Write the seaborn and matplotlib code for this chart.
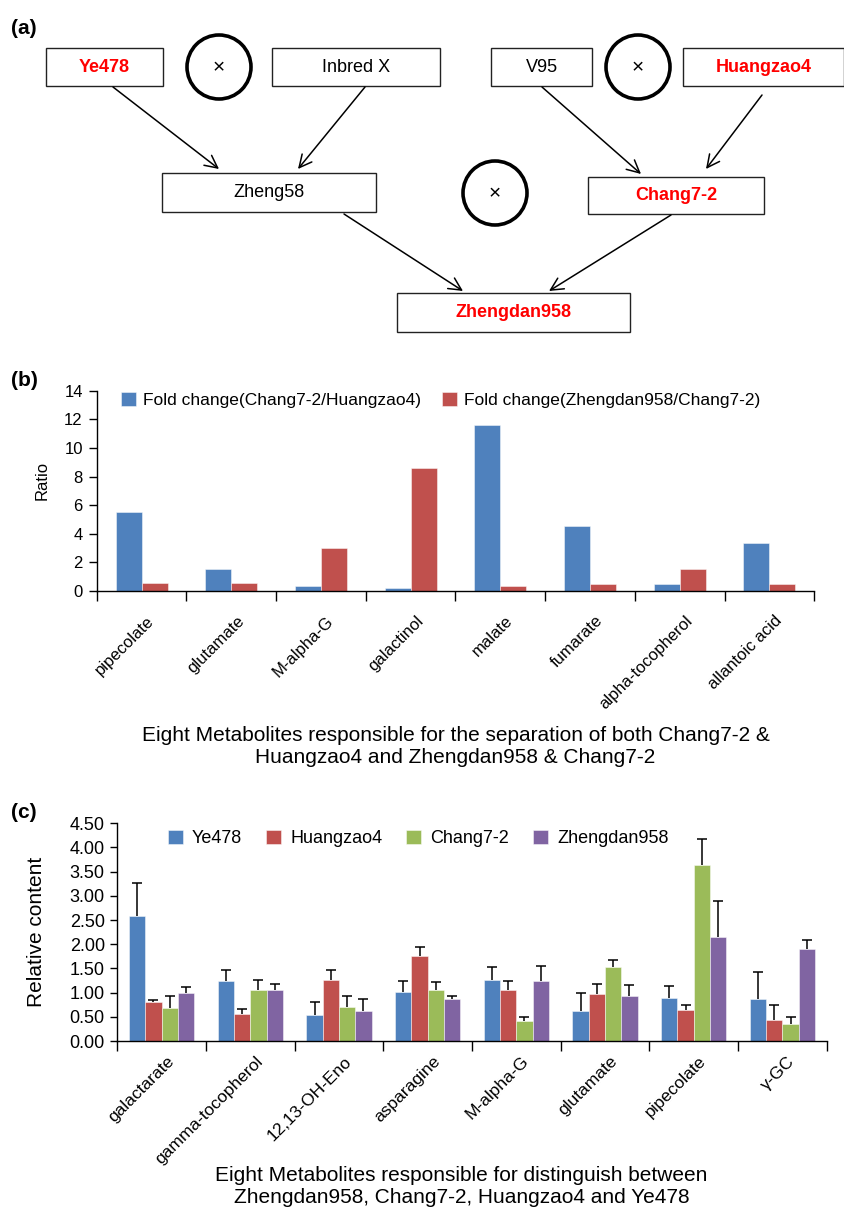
import numpy as np
import pandas as pd
import matplotlib
matplotlib.use("Agg")
import matplotlib.pyplot as plt
import matplotlib.transforms as mtransforms
from matplotlib.patches import Rectangle, Circle, FancyArrowPatch
import seaborn as sns

# ---------------- data ----------------
# panel (a): breeding pedigree
nodes = ["Ye478", "Inbred X", "V95", "Huangzao4", "Zheng58", "Chang7-2", "Zhengdan958"]
node_highlight = [True, False, False, True, False, True, True]
crosses = [("Ye478", "Inbred X", "Zheng58"), ("V95", "Huangzao4", "Chang7-2"),
           ("Zheng58", "Chang7-2", "Zhengdan958")]

# panel (b)
b_metabolites = ["pipecolate", "glutamate", "M-alpha-G", "galactinol", "malate",
                 "fumarate", "alpha-tocopherol", "allantoic acid"]
b_series = ["Fold change(Chang7-2/Huangzao4)", "Fold change(Zhengdan958/Chang7-2)"]
b_fc_chang_huang = [5.53, 1.54, 0.37, 0.18, 11.60, 4.51, 0.48, 3.36]
b_fc_zheng_chang = [0.58, 0.58, 2.99, 8.59, 0.37, 0.46, 1.54, 0.46]
b_xlabel = "Eight Metabolites responsible for the separation of both Chang7-2 &\nHuangzao4 and Zhengdan958 & Chang7-2"

# panel (c)
c_metabolites = ["galactarate", "gamma-tocopherol", "12,13-OH-Eno", "asparagine",
                 "M-alpha-G", "glutamate", "pipecolate", "γ-GC"]
c_lines = ["Ye478", "Huangzao4", "Chang7-2", "Zhengdan958"]
c_ye478 = [2.58, 1.23, 0.53, 1.02, 1.26, 0.63, 0.88, 0.87]
c_huangzao4 = [0.80, 0.56, 1.26, 1.76, 1.06, 0.97, 0.65, 0.43]
c_chang72 = [0.68, 1.05, 0.71, 1.06, 0.41, 1.52, 3.64, 0.35]
c_zhengdan958 = [1.00, 1.06, 0.62, 0.86, 1.23, 0.94, 2.16, 1.90]
c_ye478_err = [0.68, 0.23, 0.28, 0.22, 0.26, 0.37, 0.25, 0.55]
c_huangzao4_err = [0.04, 0.10, 0.21, 0.18, 0.19, 0.20, 0.10, 0.31]
c_chang72_err = [0.24, 0.22, 0.23, 0.16, 0.09, 0.15, 0.54, 0.15]
c_zhengdan958_err = [0.11, 0.11, 0.24, 0.06, 0.32, 0.22, 0.74, 0.18]
c_xlabel = "Eight Metabolites responsible for distinguish between\nZhengdan958, Chang7-2, Huangzao4 and Ye478"

# ---------------- style ----------------
sns.set_theme(style="ticks")
plt.rcParams["font.family"] = ["Liberation Sans", "DejaVu Sans"]
for k in ["text.color", "axes.labelcolor", "xtick.color", "ytick.color", "axes.edgecolor"]:
    plt.rcParams[k] = "black"
plt.rcParams["axes.linewidth"] = 1.0
plt.rcParams["xtick.major.width"] = 1.0
plt.rcParams["ytick.major.width"] = 1.0
plt.rcParams["xtick.minor.width"] = 1.0

BLUE, RED, GREEN, PURPLE = "#4F81BD", "#C0504D", "#9BBB59", "#8064A2"
W, H = 845, 1212
fig = plt.figure(figsize=(W / 100, H / 100), dpi=100)

# overlay axes in pixel coordinates for the diagram and panel letters
ov = fig.add_axes([0, 0, 1, 1])
ov.set_xlim(0, W)
ov.set_ylim(H, 0)
ov.axis("off")

# ---------------- panel (a) ----------------
box_pos = {  # x0, x1, y0, y1 (pixels)
    "Ye478": (46, 163, 48, 86),
    "Inbred X": (272, 440, 48, 86),
    "V95": (491, 592, 48, 86),
    "Huangzao4": (683, 844, 48, 86),
    "Zheng58": (162, 376, 173, 212),
    "Chang7-2": (588, 764, 177, 214),
    "Zhengdan958": (397, 630, 293, 332),
}
circle_pos = [(219, 67), (638, 67), (495, 193)]
arrow_pos = [((113, 87), (219, 169)), ((365, 87), (298, 169)),
             ((542, 87), (641, 174)), ((762, 95), (706, 169)),
             ((344, 214), (463, 291)), ((671, 215), (549, 291))]

for name, hl in zip(nodes, node_highlight):
    x0, x1, y0, y1 = box_pos[name]
    ov.add_patch(Rectangle((x0, y0), x1 - x0, y1 - y0, fill=False,
                           edgecolor="#222222", lw=1.0))
    ov.text((x0 + x1) / 2, (y0 + y1) / 2, name, ha="center", va="center",
            fontsize=13, color="#FF0000" if hl else "black",
            fontweight="bold" if hl else "normal")
for (cx, cy) in circle_pos[:len(crosses)]:
    ov.add_patch(Circle((cx, cy), 32, fill=False, edgecolor="black", lw=2.6))
    ov.text(cx, cy + 1, "×", ha="center", va="center", fontsize=15)
for (p0, p1) in arrow_pos:
    ov.add_patch(FancyArrowPatch(p0, p1, arrowstyle="->,head_length=9,head_width=4.5",
                                 mutation_scale=1, lw=1.1, color="black",
                                 shrinkA=0, shrinkB=0))

for lab, (x, y) in zip(["(a)", "(b)", "(c)"], [(11, 28), (11, 380), (11, 813)]):
    ov.text(x, y, lab, ha="left", va="center", fontsize=15, fontweight="bold")


def ax_rect(x0, x1, ytop, ybot):
    return [x0 / W, 1 - ybot / H, (x1 - x0) / W, (ybot - ytop) / H]


def style_cat_axis(ax, labels, pad_pt):
    ax.set_xlim(-0.5, len(labels) - 0.5)
    ax.set_xticks(np.arange(len(labels)))
    ax.set_xticks(np.arange(-0.5, len(labels), 1.0), minor=True)
    ax.tick_params(axis="x", which="major", length=0, pad=pad_pt)
    ax.tick_params(axis="x", which="minor", length=7, direction="out", color="black")
    ax.set_xticklabels(labels, rotation=45, ha="right", va="top", rotation_mode="anchor")
    off = mtransforms.ScaledTranslation(5 / 100, 0, fig.dpi_scale_trans)
    for t in ax.get_xticklabels():
        t.set_transform(t.get_transform() + off)
    sns.despine(ax=ax)
    ax.set_facecolor("none")
    ax.grid(False)


# ---------------- panel (b) ----------------
axb = fig.add_axes(ax_rect(96.7, 814.3, 390.7, 591))
df_b = pd.DataFrame({
    "metabolite": b_metabolites * 2,
    "series": [b_series[0]] * len(b_metabolites) + [b_series[1]] * len(b_metabolites),
    "value": b_fc_chang_huang + b_fc_zheng_chang,
})
sns.barplot(data=df_b, x="metabolite", y="value", hue="series", order=b_metabolites,
            hue_order=b_series, palette=[BLUE, RED], width=0.58, errorbar=None,
            saturation=1, edgecolor=(1, 1, 1, 0.55), linewidth=0.6, ax=axb)
axb.set_ylim(0, 14)
axb.set_yticks(np.arange(0, 15, 2))
axb.tick_params(axis="y", length=6, direction="out", labelsize=12, pad=4, color="black")
axb.tick_params(axis="x", labelsize=12)
style_cat_axis(axb, b_metabolites, 16)
axb.set_ylabel("Ratio", fontsize=12)
axb.yaxis.set_label_coords(-0.066, 0.55)
axb.set_xlabel(b_xlabel, fontsize=15, linespacing=1.2)
axb.xaxis.set_label_coords(0.5, -0.672)
axb.xaxis.label.set_va("top")
sns.move_legend(axb, "upper left", bbox_to_anchor=(121 / W, 1 - 392 / H),
                bbox_transform=fig.transFigure, ncol=2, frameon=False, title=None,
                fontsize=12.5, handlelength=0.85, handleheight=0.9,
                handletextpad=0.4, columnspacing=1.25, borderpad=0, borderaxespad=0)

# ---------------- panel (c) ----------------
axc = fig.add_axes(ax_rect(117.3, 826.7, 823.3, 1041))
c_vals = [c_ye478, c_huangzao4, c_chang72, c_zhengdan958]
c_errs = [c_ye478_err, c_huangzao4_err, c_chang72_err, c_zhengdan958_err]
df_c = pd.DataFrame({
    "metabolite": c_metabolites * len(c_lines),
    "line": [ln for ln in c_lines for _ in c_metabolites],
    "value": sum(c_vals, []),
})
sns.barplot(data=df_c, x="metabolite", y="value", hue="line", order=c_metabolites,
            hue_order=c_lines, palette=[BLUE, RED, GREEN, PURPLE], width=0.735,
            errorbar=None, saturation=1, edgecolor=(1, 1, 1, 0.55), linewidth=0.6, ax=axc)
for cont, vals, errs in zip(axc.containers, c_vals, c_errs):
    patches = sorted(cont.patches, key=lambda p: p.get_x())
    xs = np.array([p.get_x() + p.get_width() / 2 for p in patches])
    ys = np.array(vals)
    _, caplines, _ = axc.errorbar(xs, ys, yerr=[np.zeros(len(ys)), np.array(errs)],
                                  fmt="none", ecolor="black", elinewidth=1.1,
                                  capsize=3.4, capthick=1.1, zorder=5)
    for cl in caplines:
        if np.allclose(cl.get_ydata(), ys):
            cl.remove()
axc.set_ylim(0, 4.5)
axc.set_yticks(np.arange(0, 4.51, 0.5))
axc.set_yticklabels([f"{v:.2f}" for v in np.arange(0, 4.51, 0.5)])
axc.tick_params(axis="y", length=5, direction="out", labelsize=13, pad=4, color="black")
axc.tick_params(axis="x", labelsize=12.5)
style_cat_axis(axc, c_metabolites, 9)
axc.set_ylabel("Relative content", fontsize=15)
axc.yaxis.set_label_coords(-0.1, 0.5)
axc.set_xlabel(c_xlabel, fontsize=15, linespacing=1.2)
axc.xaxis.set_label_coords(0.485, -0.572)
axc.xaxis.label.set_va("top")
sns.move_legend(axc, "upper left", bbox_to_anchor=(168 / W, 1 - 830 / H),
                bbox_transform=fig.transFigure, ncol=4, frameon=False, title=None,
                fontsize=13, handlelength=0.83, handleheight=0.83,
                handletextpad=0.5, columnspacing=1.33, borderpad=0, borderaxespad=0)

fig.savefig("out.png", dpi=100)
